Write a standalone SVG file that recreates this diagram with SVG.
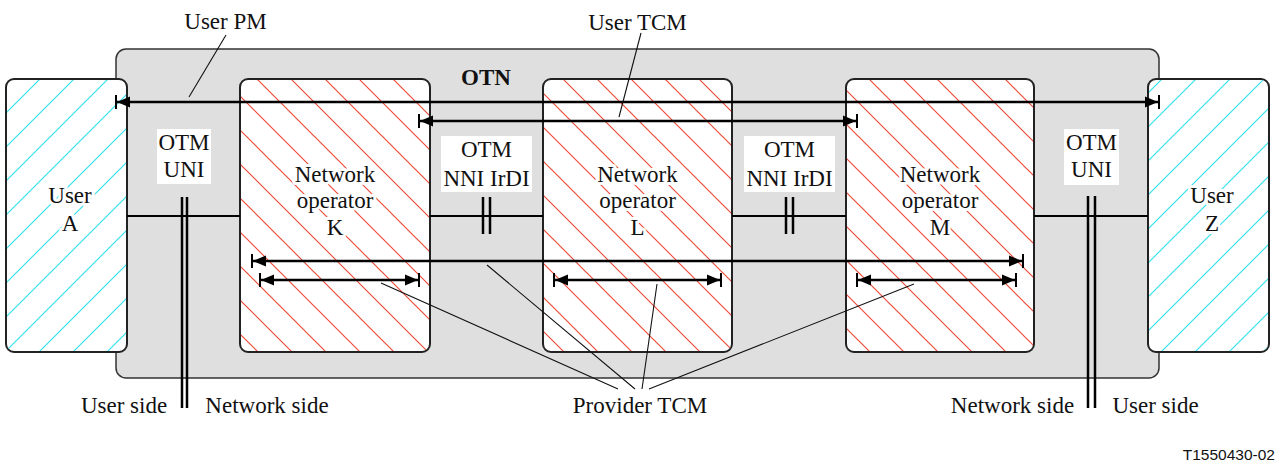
<svg xmlns="http://www.w3.org/2000/svg" width="1282" height="465" viewBox="0 0 1282 465">
<style>
.t{font-family:"Liberation Serif","Times New Roman",serif;font-size:23px;fill:#111;text-anchor:middle}
.halo{paint-order:stroke;stroke:#fff;stroke-width:6px;stroke-linejoin:round}
.box{fill:#fff;stroke:#222;stroke-width:2}
.arr{stroke:#000;stroke-width:2.5;fill:none;marker-start:url(#tee);marker-end:url(#tee)}
.lead{stroke:#111;stroke-width:1.1;fill:none}
.link{stroke:#000;stroke-width:2;fill:none}
.bar{stroke:#000;stroke-width:2.5;fill:none}
.lbl{fill:#fff}
</style>
<defs>
<pattern id="hr" patternUnits="userSpaceOnUse" width="34" height="34" patternTransform="translate(8,0)">
<path d="M-1,-1 L35,35 M-1,33 L1,35 M33,-1 L35,1" stroke="#f04a3a" stroke-width="1.2" fill="none"/>
</pattern>
<pattern id="hc" patternUnits="userSpaceOnUse" width="34" height="34" patternTransform="translate(17,0)">
<path d="M-1,35 L35,-1 M-1,1 L1,-1 M33,35 L35,33" stroke="#33e0f0" stroke-width="1.2" fill="none"/>
</pattern>
<marker id="tee" markerUnits="userSpaceOnUse" markerWidth="20" markerHeight="18" viewBox="-16 -9 20 18" refX="0" refY="0" orient="auto-start-reverse" overflow="visible">
<path d="M-1,0 L-14,-5.5 L-14,5.5 Z" fill="#000"/>
<path d="M0,-7 L0,7" stroke="#000" stroke-width="2"/>
</marker>
</defs>
<rect width="1282" height="465" fill="#fff"/>

<g id="otn">
<rect x="116" y="49" width="1043" height="329" rx="10" fill="#dfdfdf" stroke="#333" stroke-width="1.5"/>
<text class="t" x="486" y="85" font-weight="bold">OTN</text>
</g>

<g id="userA">
<rect class="box" x="6" y="79" width="121" height="273" rx="8"/>
<rect x="7" y="80" width="119" height="271" rx="7" fill="url(#hc)"/>
</g>
<g id="opK">
<rect class="box" x="240" y="79" width="190" height="273" rx="8"/>
<rect x="241" y="80" width="188" height="271" rx="7" fill="url(#hr)"/>
</g>
<g id="opL">
<rect class="box" x="543" y="79" width="189" height="273" rx="8"/>
<rect x="544" y="80" width="187" height="271" rx="7" fill="url(#hr)"/>
</g>
<g id="opM">
<rect class="box" x="846" y="79" width="188" height="273" rx="8"/>
<rect x="847" y="80" width="186" height="271" rx="7" fill="url(#hr)"/>
</g>
<g id="userZ">
<rect class="box" x="1148" y="79" width="121" height="273" rx="8"/>
<rect x="1149" y="80" width="119" height="271" rx="7" fill="url(#hc)"/>
</g>

<g id="connectors">
<path class="link" d="M127,216 H240 M430,216 H543 M732,216 H846 M1034,216 H1148"/>
<path class="bar" d="M182,197 V408 M187,197 V408 M1088,196 V408 M1095,196 V408"/>
<path class="bar" d="M483,197 V234 M490,197 V234 M786,197 V234 M793,197 V234"/>
<line class="arr" x1="116" y1="102" x2="1159" y2="102"/>
<line class="arr" x1="419" y1="121" x2="857" y2="121"/>
<line class="arr" x1="252" y1="261" x2="1023" y2="261"/>
<line class="arr" x1="260" y1="280" x2="419" y2="280"/>
<line class="arr" x1="554" y1="280" x2="721" y2="280"/>
<line class="arr" x1="857" y1="280" x2="1016" y2="280"/>
<path class="lead" d="M226,35 L189,97"/>
<path class="lead" d="M641,33 L619,117"/>
<path class="lead" d="M381,283 L618,389 M487,265 L635,389 M657,284 L642,389 M914,284 L649,389"/>
</g>

<g id="lblUNI1">
<rect class="lbl" x="157" y="129" width="54" height="55"/>
<text class="t" x="184" y="150">OTM</text>
<text class="t" x="184" y="177">UNI</text>
</g>
<g id="lblNNI1">
<rect class="lbl" x="441" y="136" width="91" height="56"/>
<text class="t" x="486.5" y="157">OTM</text>
<text class="t" x="486.5" y="186">NNI IrDI</text>
</g>
<g id="lblNNI2">
<rect class="lbl" x="744" y="136" width="91" height="56"/>
<text class="t" x="789.5" y="157">OTM</text>
<text class="t" x="789.5" y="186">NNI IrDI</text>
</g>
<g id="lblUNI2">
<rect class="lbl" x="1064" y="129" width="55" height="56"/>
<text class="t" x="1091.5" y="150">OTM</text>
<text class="t" x="1091.5" y="177">UNI</text>
</g>

<g id="txtA"><text class="t halo" x="70" y="203">User</text><text class="t halo" x="70" y="231">A</text></g>
<g id="txtK"><text class="t halo" x="335" y="182">Network</text><text class="t halo" x="335" y="208">operator</text><text class="t halo" x="335" y="235">K</text></g>
<g id="txtL"><text class="t halo" x="637.5" y="182">Network</text><text class="t halo" x="637.5" y="208">operator</text><text class="t halo" x="637.5" y="235">L</text></g>
<g id="txtM"><text class="t halo" x="940" y="182">Network</text><text class="t halo" x="940" y="208">operator</text><text class="t halo" x="940" y="235">M</text></g>
<g id="txtZ"><text class="t halo" x="1212" y="203">User</text><text class="t halo" x="1212" y="231">Z</text></g>

<g id="labels">
<text class="t" x="225.5" y="29">User PM</text>
<text class="t" x="637.5" y="30">User TCM</text>
<text class="t" x="640" y="413">Provider TCM</text>
<text class="t" x="124" y="413">User side</text>
<text class="t" x="267" y="413">Network side</text>
<text class="t" x="1012.5" y="413">Network side</text>
<text class="t" x="1155.5" y="413">User side</text>
<text x="1275" y="460" font-family="'Liberation Sans',Arial,sans-serif" font-size="15.5" fill="#111" text-anchor="end">T1550430-02</text>
</g>
</svg>
